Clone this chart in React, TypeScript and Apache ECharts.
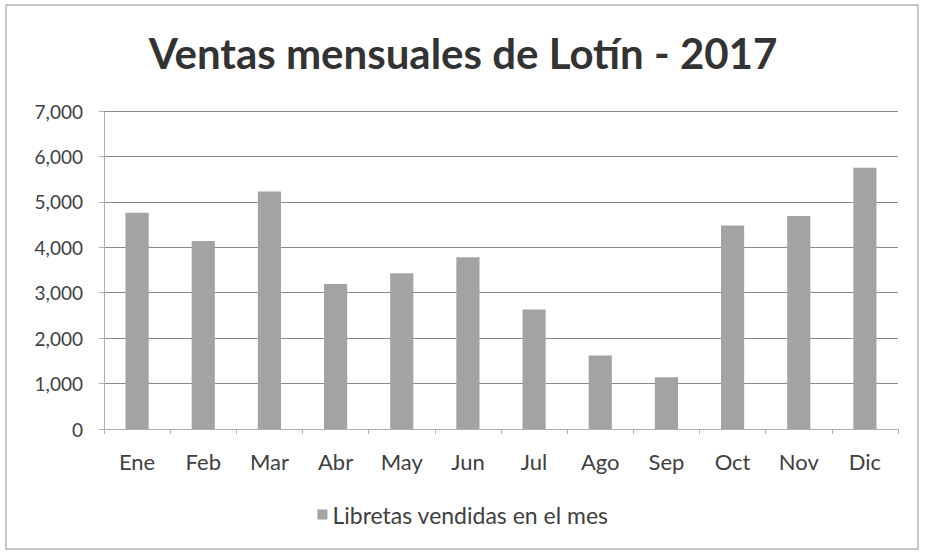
import React, { useEffect, useRef } from "react";
import * as echarts from "echarts";

const months = ["Ene", "Feb", "Mar", "Abr", "May", "Jun", "Jul", "Ago", "Sep", "Oct", "Nov", "Dic"];
const libretas = [4760, 4140, 5230, 3190, 3430, 3780, 2630, 1620, 1140, 4480, 4690, 5750];
const seriesName = "Libretas vendidas en el mes";
const titleText = "Ventas mensuales de Lotín - 2017";

const FONT = "Lato, 'Open Sans', sans-serif";

export default function App() {
  const ref = useRef<HTMLDivElement>(null);
  useEffect(() => {
    if (!ref.current) return;
    const chart = echarts.init(ref.current, undefined, { renderer: "svg" });
    chart.setOption({
      animation: false,
      backgroundColor: "#ffffff",
      title: {
        text: titleText,
        left: "center",
        top: 27,
        textStyle: { fontFamily: FONT, fontSize: 42, fontWeight: "bold", color: "#333333" },
      },
      graphic: [
        {
          type: "rect",
          shape: { x: 6, y: 5, width: 912, height: 544 },
          style: { fill: "none", stroke: "#b5b5b5", lineWidth: 1.5 },
          silent: true,
        },
      ],
      legend: {
        bottom: 24,
        left: "center",
        itemWidth: 10,
        itemHeight: 10,
        itemGap: 8,
        icon: "rect",
        textStyle: { fontFamily: FONT, fontSize: 23, color: "#404040" },
        data: [seriesName],
      },
      grid: { left: 104, right: 28, top: 111, bottom: 126 },
      xAxis: {
        type: "category",
        data: months,
        boundaryGap: true,
        axisLine: { show: true, lineStyle: { color: "#b0b0b0", width: 1 } },
        axisTick: { show: true, alignWithLabel: false, length: 5, lineStyle: { color: "#b0b0b0" } },
        axisLabel: { fontFamily: FONT, fontSize: 22, color: "#404040", margin: 21 },
      },
      yAxis: {
        type: "value",
        min: 0,
        max: 7000,
        interval: 1000,
        axisLine: { show: true, lineStyle: { color: "#b0b0b0", width: 1 } },
        axisTick: { show: true, length: 5, lineStyle: { color: "#b0b0b0" } },
        axisLabel: {
          fontFamily: FONT,
          fontSize: 19,
          color: "#404040",
          margin: 21,
          formatter: (v: number) => v.toLocaleString("en-US"),
        },
        splitLine: { show: true, lineStyle: { color: "#8a8a8a", width: 1 } },
      },
      series: [
        {
          name: seriesName,
          type: "bar",
          data: libretas,
          barWidth: "35%",
          itemStyle: { color: "#a3a3a3" },
        },
      ],
    });
    return () => chart.dispose();
  }, []);
  return (
    <div
      ref={ref}
      style={{ position: "fixed", left: 0, top: 0, width: 926, height: 555 }}
    />
  );
}
